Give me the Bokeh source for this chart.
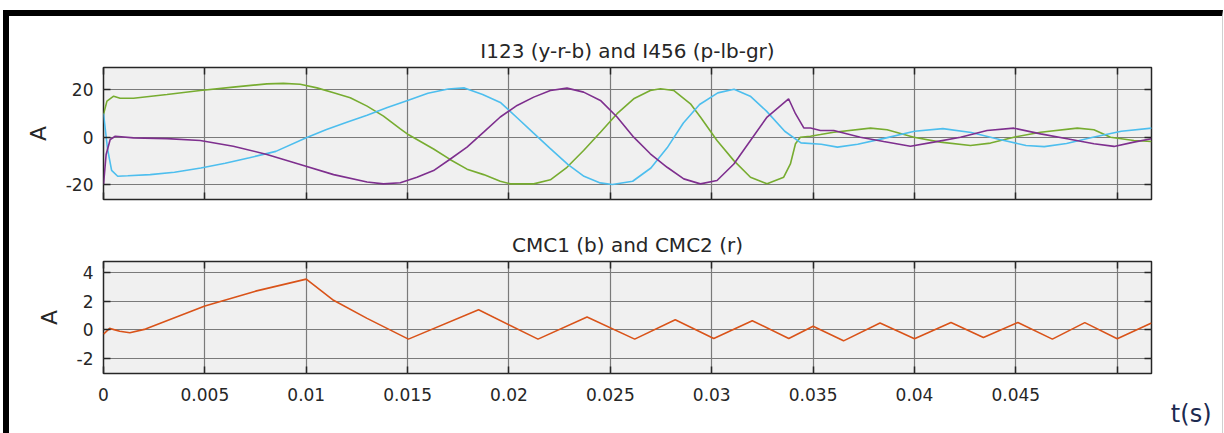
from bokeh.plotting import figure
from bokeh.layouts import column
from bokeh.models import LinearAxis, FixedTicker, Range1d, Title
from bokeh.embed import file_html
from bokeh.resources import INLINE

FONT = "DejaVu Sans"
TXT = "#262626"

# ---------------- data ----------------
t_green = [0, 0.00017, 0.0005, 0.00082, 0.00148, 0.00313, 0.00477, 0.0064, 0.00806, 0.00888,
           0.0097, 0.01053, 0.01135, 0.01217, 0.013, 0.01381, 0.01464, 0.01505, 0.01628, 0.01711,
           0.01793, 0.01875, 0.01957, 0.02007, 0.02122, 0.02204, 0.02286, 0.02368, 0.02451, 0.02533,
           0.02615, 0.02697, 0.02747, 0.02812, 0.02895, 0.02944, 0.03026, 0.03109, 0.03191, 0.03273,
           0.03355, 0.03388, 0.03413, 0.03437, 0.03487, 0.03536, 0.03602, 0.03783, 0.03865, 0.03997,
           0.04128, 0.04276, 0.04375, 0.0449, 0.04622, 0.04803, 0.04885, 0.04967, 0.05082, 0.05169]
v_green = [9.6, 15.2, 17.3, 16.4, 16.4, 18.0, 19.7, 21.1, 22.5, 22.7,
           22.3, 20.8, 18.7, 16.6, 13.1, 8.9, 3.5, 1.0, -5.0, -9.5,
           -13.5, -15.8, -18.6, -19.7, -19.7, -18.0, -12.7, -5.6, 2.1, 9.9,
           16.2, 19.7, 20.4, 19.7, 14.1, 8.5, -1.4, -9.9, -16.9, -19.7,
           -16.9, -11.3, -2.8, 0.0, 0.4, 1.1, 2.1, 3.8, 3.1, 0.0,
           -2.1, -3.5, -2.5, 0.0, 2.1, 3.8, 3.1, 0.0, -1.4, -1.8]

t_blue = [0, 0.0002, 0.0004, 0.0007, 0.0012, 0.0023, 0.0035, 0.0048, 0.006, 0.0072,
          0.0085, 0.0100, 0.011, 0.012, 0.013, 0.014, 0.015, 0.016, 0.017, 0.0178,
          0.0187, 0.0196, 0.0204, 0.0212, 0.022, 0.0229, 0.0237, 0.0245, 0.0251, 0.0261,
          0.027, 0.0278, 0.0286, 0.0294, 0.0303, 0.0311, 0.0319, 0.0327, 0.0336, 0.0344,
          0.0354, 0.0362, 0.0372, 0.0385, 0.04, 0.0414, 0.0428, 0.0442, 0.0455, 0.0464,
          0.0475, 0.0488, 0.0502, 0.0517]
v_blue = [10, -5, -14, -16.5, -16.3, -15.8, -14.8, -13, -11, -8.7,
          -6, -0.2, 3.2, 6.3, 9.3, 12.5, 15.5, 18.5, 20.3, 20.8,
          18, 14.5, 8.2, 1.8, -4.5, -11.5, -16.5, -19.3, -20, -18.6,
          -13, -4.5, 6, 13.8, 18.7, 20.2, 17.3, 11, 2.5, -2.4,
          -3, -4.2, -3, -0.5, 2.5, 3.6, 2, -1, -3.5, -4,
          -2.7, 0, 2.5, 3.8]

t_purple = [0, 0.00013, 0.00033, 0.00058, 0.00148, 0.00313, 0.00477, 0.0064, 0.00806, 0.0097,
            0.01135, 0.013, 0.01381, 0.01464, 0.01546, 0.01628, 0.01711, 0.01793, 0.01875, 0.01957,
            0.0204, 0.02122, 0.02204, 0.02286, 0.02368, 0.02451, 0.02533, 0.02615, 0.02697, 0.0278,
            0.02862, 0.02944, 0.03026, 0.03109, 0.03191, 0.03273, 0.03379, 0.03413, 0.03454, 0.03487,
            0.03536, 0.03602, 0.03733, 0.03848, 0.0398, 0.04095, 0.04227, 0.04358, 0.0449, 0.04622,
            0.04753, 0.04885, 0.04984, 0.05082, 0.05169]
v_purple = [-20, -7.3, -1.0, 0.4, -0.3, -0.6, -1.4, -3.8, -7.3, -11.5,
            -15.8, -18.9, -19.7, -19.2, -16.9, -14.1, -9.2, -4.2, 2.1, 8.5,
            13.4, 16.9, 19.7, 20.7, 19.0, 15.5, 8.5, 0.0, -7.0, -12.7,
            -17.6, -19.7, -18.3, -11.3, -1.4, 8.5, 16.2, 9.9, 3.9, 3.9,
            2.8, 2.8, 0.0, -1.8, -3.8, -2.1, 0.0, 2.8, 3.8, 1.4,
            -0.7, -2.8, -3.9, -2.1, -0.7]

t_cmc = [0, 0.0003, 0.0008, 0.0013, 0.00207, 0.005, 0.0075, 0.01, 0.0113, 0.013,
         0.01504, 0.0185, 0.02143, 0.02385, 0.0262, 0.0282, 0.0301, 0.0320, 0.0338, 0.0350,
         0.0365, 0.0383, 0.0400, 0.0418, 0.0434, 0.0451, 0.0468, 0.0484, 0.0500, 0.05169]
v_cmc2 = [-0.3, 0.1, -0.1, -0.2, 0.05, 1.67, 2.7, 3.54, 2.1, 0.8,
          -0.65, 1.4, -0.65, 0.9, -0.65, 0.7, -0.6, 0.63, -0.6, 0.25,
          -0.77, 0.47, -0.63, 0.51, -0.53, 0.51, -0.65, 0.5, -0.63, 0.47]

x_ticks = [0, 0.005, 0.01, 0.015, 0.02, 0.025, 0.03, 0.035, 0.04, 0.045, 0.05]
x_tick_labels = ["0", "0.005", "0.01", "0.015", "0.02", "0.025", "0.03", "0.035", "0.04", "0.045", ""]
y_ticks_top = [-20, 0, 20]
y_tick_labels_top = ["-20", "0", "20"]
y_ticks_bot = [-2, 0, 2, 4]
y_tick_labels_bot = ["-2", "0", "2", "4"]

title_top = "I123 (y-r-b) and I456 (p-lb-gr)"
title_bot = "CMC1 (b) and CMC2 (r)"
x_label = "t(s)"
y_label = "A"
x_range = (0, 0.05169)


def hide_labels(ax):
    ax.major_label_text_font_size = "0px"
    ax.major_label_text_color = None
    ax.major_label_standoff = 0


def style(p, yticks, ylabels, show_x_labels):
    p.background_fill_color = "#F0F0F0"
    p.border_fill_color = "white"
    p.outline_line_color = TXT
    p.outline_line_width = 1.5
    p.title.text_font = FONT
    p.title.text_font_size = "20px"
    p.title.text_font_style = "normal"
    p.title.text_color = TXT
    p.title.align = "center"
    p.xaxis.ticker = FixedTicker(ticks=x_ticks)
    p.yaxis.ticker = FixedTicker(ticks=yticks)
    p.xgrid.ticker = FixedTicker(ticks=x_ticks)
    p.ygrid.ticker = FixedTicker(ticks=yticks)
    for g in (p.xgrid, p.ygrid):
        g.grid_line_color = "#7a7a7a"
        g.grid_line_width = 1.2
    for ax in (p.xaxis, p.yaxis):
        ax.axis_line_color = None
        ax.major_tick_in = 7
        ax.major_tick_out = 0
        ax.minor_tick_in = 0
        ax.minor_tick_out = 0
        ax.major_tick_line_color = TXT
        ax.major_tick_line_width = 1.5
        ax.major_label_text_font = FONT
        ax.major_label_text_font_size = "17px"
        ax.major_label_text_color = TXT
    p.yaxis.major_label_standoff = 10
    p.yaxis.major_label_overrides = {t: s for t, s in zip(yticks, ylabels)}
    p.yaxis.axis_label = y_label
    p.yaxis.axis_label_text_font = FONT
    p.yaxis.axis_label_text_font_size = "22px"
    p.yaxis.axis_label_text_font_style = "normal"
    p.yaxis.axis_label_text_color = TXT
    p.yaxis.axis_label_standoff = 12
    if show_x_labels:
        p.xaxis.major_label_overrides = {t: s for t, s in zip(x_ticks, x_tick_labels)}
        p.xaxis.major_label_standoff = 14
    else:
        hide_labels(p.xaxis[0])
    # mirrored inward ticks on the right and top
    ax_r = LinearAxis(ticker=FixedTicker(ticks=yticks))
    ax_t = LinearAxis(ticker=FixedTicker(ticks=x_ticks))
    for ax in (ax_r, ax_t):
        ax.axis_line_color = None
        ax.major_tick_in = 7
        ax.major_tick_out = 0
        ax.minor_tick_in = 0
        ax.minor_tick_out = 0
        ax.major_tick_line_color = TXT
        ax.major_tick_line_width = 1.5
        hide_labels(ax)
    p.add_layout(ax_r, "right")
    p.add_layout(ax_t, "above")


W = 1213
p1 = figure(width=W, height=200, output_backend="svg", toolbar_location=None,
            x_range=Range1d(*x_range), y_range=Range1d(-26.3, 29.4),
            min_border_left=94, min_border_right=71, min_border_top=51, min_border_bottom=17,
            title=title_top)
style(p1, y_ticks_top, y_tick_labels_top, False)
p1.line(t_green, v_green, line_color="#77AC30", line_width=1.6)
p1.line(t_blue, v_blue, line_color="#4DBEEE", line_width=1.6)
p1.line(t_purple, v_purple, line_color="#7E2F8E", line_width=1.6)

p2 = figure(width=W, height=217, output_backend="svg", toolbar_location=None,
            x_range=Range1d(*x_range), y_range=Range1d(-3.05, 4.77),
            min_border_left=94, min_border_right=71, min_border_top=45, min_border_bottom=60,
            title=title_bot)
style(p2, y_ticks_bot, y_tick_labels_bot, True)
p2.line(t_cmc, v_cmc2, line_color="#D95319", line_width=1.6)

# x-axis name, set to the right of the frame like in the reference
p2.add_layout(Title(text=x_label, align="right", offset=-60, standoff=-12,
                    text_font=FONT, text_font_size="24px", text_font_style="normal",
                    text_color="#1c2a50"), "below")

lay = column(p1, p2, spacing=0,
             styles={"margin-left": "3px", "margin-top": "10px",
                     "border-left": "6px solid black", "border-top": "6px solid black",
                     "border-right": "1px solid #d0d0d0"})

open("out.html", "w").write(file_html(lay, INLINE))
